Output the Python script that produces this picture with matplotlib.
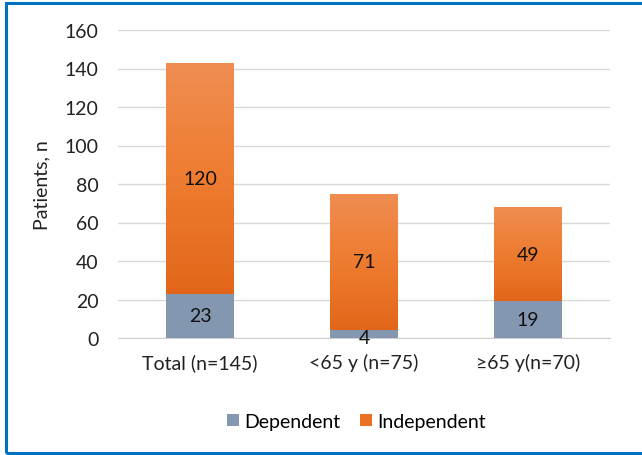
import numpy as np
import matplotlib.pyplot as plt
from matplotlib.colors import LinearSegmentedColormap
from matplotlib.patches import Rectangle

# data
categories = ["Total (n=145)", "<65 y (n=75)", "\u226565 y(n=70)"]
dependent = [23, 4, 19]
independent = [120, 71, 49]

plt.rcParams['font.family'] = ['Lato', 'DejaVu Sans']

fig = plt.figure(figsize=(6.42, 4.56), dpi=100)
ax = fig.add_axes([118/642, 1-339/456, 492/642, 308/456])

x = np.arange(len(categories))
b1 = ax.bar(x, dependent, width=0.41, color="#8497B0", zorder=3, label="Dependent")
b2 = ax.bar(x, independent, width=0.41, bottom=dependent, color="#EA7125", zorder=3,
            label="Independent")

# orange gradient (light top, darker bottom)
cmap = LinearSegmentedColormap.from_list("org", ["#E2661A", "#EE7C30", "#F08D52"])
grad = np.linspace(0, 1, 256).reshape(-1, 1)
for p in b2:
    x0, y0 = p.get_x(), p.get_y()
    im = ax.imshow(grad, cmap=cmap, origin="lower", aspect="auto", zorder=3.5,
                   extent=[x0, x0 + p.get_width(), y0, y0 + p.get_height()])
    im.set_clip_path(p)

# value labels
for i in range(len(categories)):
    ax.text(x[i], dependent[i] / 2 if dependent[i] > 8 else dependent[i] / 2 - 1.5,
            str(dependent[i]), ha="center", va="center", fontsize=14, color="#111111", zorder=5)
    ax.text(x[i], dependent[i] + independent[i] / 2, str(independent[i]),
            ha="center", va="center", fontsize=14, color="#111111", zorder=5)

ax.set_xlim(-0.5, 2.5)
ax.set_ylim(0, 160)
ax.set_yticks(range(0, 161, 20))
ax.set_xticks(x)
ax.set_xticklabels(categories)
ax.tick_params(axis="both", length=0, labelsize=14, colors="#222222")
ax.tick_params(axis="x", pad=11)
ax.tick_params(axis="y", pad=14)
ax.grid(axis="y", color="#D9D9D9", linewidth=1, zorder=0)
for s in ["top", "right", "left"]:
    ax.spines[s].set_visible(False)
ax.spines["bottom"].set_color("#D0D0D0")
ax.set_ylabel("Patients, n", fontsize=14, color="#222222", labelpad=10)

ax.legend(loc="center", bbox_to_anchor=(0.485, -0.27), ncol=2, frameon=False,
          fontsize=14, handlelength=0.6, handleheight=0.6, handletextpad=0.3,
          columnspacing=1.0)

# blue frame
fig.patches.append(Rectangle((6/642, 2/456), 1.0, 450/456, transform=fig.transFigure,
                             fill=False, edgecolor="#0070C0", linewidth=2.2))

fig.savefig("out.png", dpi=100)
